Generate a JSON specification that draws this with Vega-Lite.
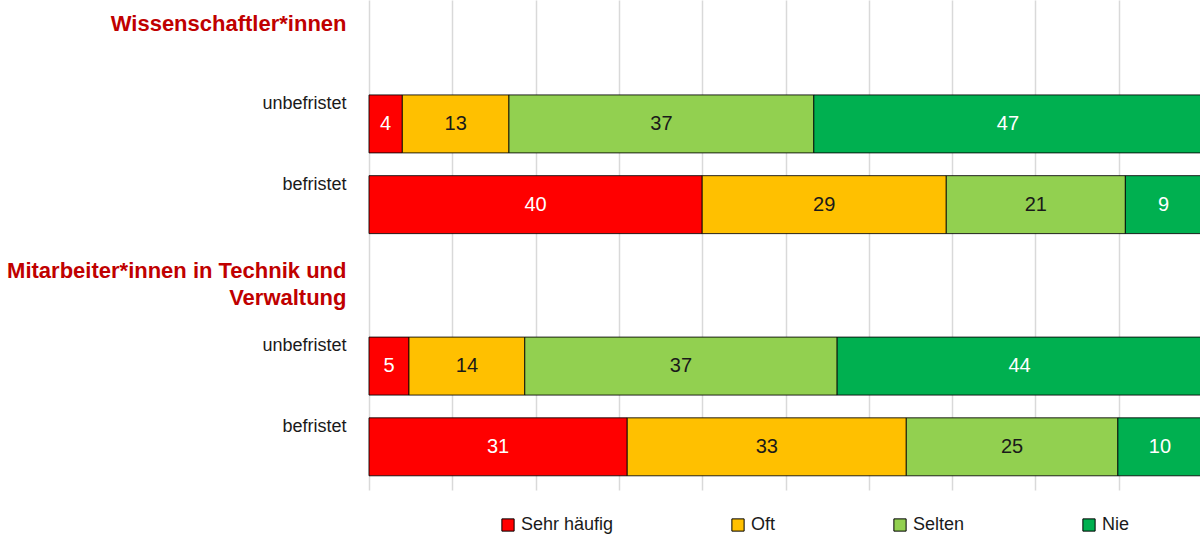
{
  "$schema": "https://vega.github.io/schema/vega-lite/v6.json",
  "width": 833,
  "height": 490,
  "autosize": "none",
  "padding": {"left": 369, "top": 0, "right": 0, "bottom": 48},
  "background": "white",
  "config": {
    "view": {"stroke": null},
    "font": "Liberation Sans, sans-serif"
  },
  "data": {
    "values": [
      {"row": "u1", "cat": "Sehr häufig", "k": 1, "pct": 4.0, "label": 4},
      {"row": "u1", "cat": "Oft", "k": 2, "pct": 12.8, "label": 13},
      {"row": "u1", "cat": "Selten", "k": 3, "pct": 36.6, "label": 37},
      {"row": "u1", "cat": "Nie", "k": 4, "pct": 46.6, "label": 47},
      {"row": "b1", "cat": "Sehr häufig", "k": 1, "pct": 40.0, "label": 40},
      {"row": "b1", "cat": "Oft", "k": 2, "pct": 29.3, "label": 29},
      {"row": "b1", "cat": "Selten", "k": 3, "pct": 21.5, "label": 21},
      {"row": "b1", "cat": "Nie", "k": 4, "pct": 9.2, "label": 9},
      {"row": "u2", "cat": "Sehr häufig", "k": 1, "pct": 4.8, "label": 5},
      {"row": "u2", "cat": "Oft", "k": 2, "pct": 13.9, "label": 14},
      {"row": "u2", "cat": "Selten", "k": 3, "pct": 37.5, "label": 37},
      {"row": "u2", "cat": "Nie", "k": 4, "pct": 43.8, "label": 44},
      {"row": "b2", "cat": "Sehr häufig", "k": 1, "pct": 31.0, "label": 31},
      {"row": "b2", "cat": "Oft", "k": 2, "pct": 33.5, "label": 33},
      {"row": "b2", "cat": "Selten", "k": 3, "pct": 25.4, "label": 25},
      {"row": "b2", "cat": "Nie", "k": 4, "pct": 10.1, "label": 10}
    ]
  },
  "transform": [
    {"stack": "pct", "groupby": ["row"], "sort": [{"field": "k", "order": "ascending"}], "as": ["x0", "x1"]},
    {"calculate": "(datum.x0 + datum.x1) / 2", "as": "xm"}
  ],
  "encoding": {
    "y": {
      "field": "row",
      "type": "nominal",
      "title": null,
      "scale": {"domain": ["h1", "u1", "b1", "h2", "u2", "b2"], "paddingInner": 0.282, "paddingOuter": 0.176},
      "axis": {
        "domain": false,
        "ticks": false,
        "grid": false,
        "labelPadding": 23,
        "labelLimit": 400,
        "labelAlign": "right",
        "labelBaseline": "alphabetic",
        "labelLineHeight": 27,
        "labelExpr": "{'h1':'Wissenschaftler*innen','u1':'unbefristet','b1':'befristet','h2':['Mitarbeiter*innen in Technik und','Verwaltung'],'u2':'unbefristet','b2':'befristet'}[datum.value]",
        "labelColor": {"condition": {"test": "datum.value=='h1'||datum.value=='h2'", "value": "#C00000"}, "value": "#1a1a1a"},
        "labelFontWeight": {"condition": {"test": "datum.value=='h1'||datum.value=='h2'", "value": "bold"}, "value": "normal"},
        "labelFontSize": {"condition": {"test": "datum.value=='h1'||datum.value=='h2'", "value": 22}, "value": 18},
        "labelOffset": {"condition": [{"test": "datum.value=='h1'", "value": -12}, {"test": "datum.value=='h2'", "value": -7}], "value": -15}
      }
    }
  },
  "layer": [
    {
      "mark": {"type": "bar", "stroke": "#000000", "strokeWidth": 1, "strokeOpacity": 0.85},
      "encoding": {
        "x": {
          "field": "x0",
          "type": "quantitative",
          "scale": {"domain": [0, 100], "nice": false},
          "title": null,
          "axis": {
            "values": [0, 10, 20, 30, 40, 50, 60, 70, 80, 90, 100],
            "labels": false,
            "ticks": false,
            "domain": false,
            "grid": true,
            "gridColor": "#D9D9D9",
            "gridWidth": 1.5
          }
        },
        "x2": {"field": "x1"},
        "color": {
          "field": "cat",
          "type": "nominal",
          "scale": {
            "domain": ["Sehr häufig", "Oft", "Selten", "Nie"],
            "range": ["#FF0000", "#FFC000", "#92D050", "#00B050"]
          },
          "legend": {
            "title": null,
            "orient": "none",
            "direction": "horizontal",
            "legendX": 130,
            "legendY": 516,
            "padding": 0,
            "symbolType": "square",
            "symbolSize": 150,
            "symbolStrokeColor": "#000000",
            "symbolStrokeWidth": 1,
            "symbolOpacity": 1,
            "labelFontSize": 18,
            "labelColor": "#1a1a1a",
            "labelOffset": 4,
            "columnPadding": 115,
            "gridAlign": "each"
          }
        }
      }
    },
    {
      "mark": {"type": "text", "fontSize": 20, "baseline": "middle", "align": "center"},
      "encoding": {
        "x": {"field": "xm", "type": "quantitative"},
        "text": {"field": "label", "type": "nominal"},
        "color": {
          "condition": {"test": "datum.cat=='Sehr häufig'||datum.cat=='Nie'", "value": "#FFFFFF"},
          "value": "#1a1a1a"
        }
      }
    }
  ]
}
